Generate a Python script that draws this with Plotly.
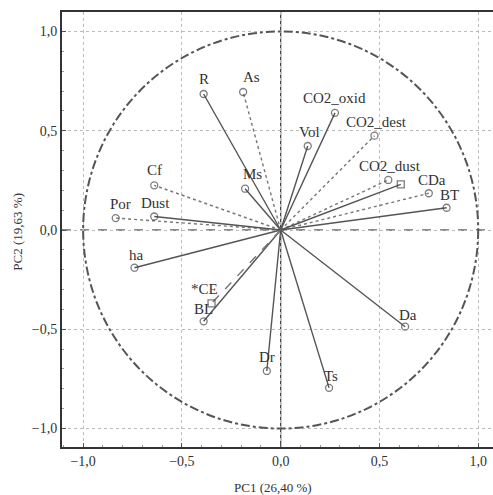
import plotly.graph_objects as go

# Loadings
names = ["R", "As", "Ms", "Cf", "Por", "Dust", "ha", "BL", "*CE", "Dr", "Ts", "Da",
         "CO2_oxid", "CO2_dest", "Vol", "CO2_dust", "*CO", "CDa", "BT"]
pc1 = [-0.39, -0.19, -0.18, -0.64, -0.835, -0.64, -0.74, -0.39, -0.35, -0.07, 0.245, 0.63,
       0.275, 0.475, 0.137, 0.545, 0.608, 0.75, 0.84]
pc2 = [0.685, 0.695, 0.208, 0.225, 0.06, 0.068, -0.19, -0.46, -0.37, -0.71, -0.795, -0.487,
       0.59, 0.475, 0.423, 0.252, 0.23, 0.185, 0.112]
styles = ["solid", "dot", "solid", "dot", "dot", "solid", "solid", "solid", "dash", "solid", "solid", "solid",
          "solid", "dot", "solid", "dot", "solid", "dot", "solid"]
symbols = ["circle-open"] * 8 + ["square-open"] + ["circle-open"] * 7 + ["square-open"] + ["circle-open"] * 2
# label pixel offsets (layout only)
label_dx = [0, 8, 7, 0, 5, 1, 2, 0, -7, 0, 2, 3, 0, 2, 2, 2, 0, 3, 3]
label_dy = [3, 3, 3, 3, 2, 2, 1, 0, 2, 2, 0, 0, 3, 2, 2, 2, 0, 1, 1]

ticks = [-1.0, -0.5, 0.0, 0.5, 1.0]
x_title = "PC1 (26,40 %)"
y_title = "PC2 (19,63 %)"

serif = "Liberation Serif"
fig = go.Figure()

annotations = []
for n, x, y, d, s, dx, dy in zip(names, pc1, pc2, styles, symbols, label_dx, label_dy):
    fig.add_trace(go.Scatter(
        x=[0, x], y=[0, y], mode="lines+markers",
        line=dict(color="#555555" if d == "solid" else "#777777", width=1.4, dash=d),
        marker=dict(symbol=["circle", s], size=[0, 7], color="#444444",
                    line=dict(color="#444444", width=1.3)),
        showlegend=False, hoverinfo="skip"))
    if n != "*CO":
        annotations.append(dict(
            text=n, x=x, y=y, xref="x", yref="y", showarrow=False,
            xanchor="center", yanchor="bottom", xshift=dx, yshift=dy + 2,
            font=dict(family=serif, size=15, color="#333333")))

annotations += [
    dict(text=x_title, xref="paper", yref="paper", x=0.49, y=0, yshift=-40,
         showarrow=False, font=dict(family=serif, size=13, color="#333333"),
         yanchor="middle"),
    dict(text=y_title, xref="paper", yref="paper", x=0, xshift=-44, y=0.495,
         showarrow=False, textangle=-90, font=dict(family=serif, size=13, color="#333333"),
         xanchor="center"),
]

fig.update_layout(
    width=493, height=495,
    margin=dict(l=62, r=0, t=12, b=48),
    paper_bgcolor="white", plot_bgcolor="white",
    separators=", ",
    showlegend=False,
    font=dict(family=serif, size=13, color="#333333"),
    shapes=[
        dict(type="circle", xref="x", yref="y", x0=-1, y0=-1, x1=1, y1=1,
             line=dict(color="#555555", width=2, dash="dashdot"), layer="above"),
        dict(type="line", xref="x", yref="y", x0=-1.107, x1=1.075, y0=0, y1=0,
             line=dict(color="#666666", width=1.5, dash="dash"), layer="below"),
        dict(type="line", xref="x", yref="y", x0=0, x1=0, y0=-1.093, y1=1.098,
             line=dict(color="#444444", width=1.3), layer="below"),
    ],
    annotations=annotations,
)
fig.update_xaxes(range=[-1.107, 1.075], tickvals=ticks, tickformat=".1f",
                 showgrid=True, gridcolor="#bbbbbb", griddash="dot", gridwidth=1,
                 zeroline=False, showline=True, linecolor="#333333", linewidth=2, mirror=True,
                 ticks="inside", ticklen=4, tickcolor="#555555",
                 minor=dict(ticks="inside", dtick=0.1, ticklen=2, tickcolor="#999999"),
                 tickfont=dict(family=serif, size=14, color="#333333"))
fig.update_yaxes(range=[-1.093, 1.098], tickvals=ticks, tickformat=".1f",
                 showgrid=True, gridcolor="#bbbbbb", griddash="dot", gridwidth=1,
                 zeroline=False, showline=True, linecolor="#333333", linewidth=2, mirror=False,
                 ticks="inside", ticklen=4, tickcolor="#555555",
                 minor=dict(ticks="inside", dtick=0.1, ticklen=2, tickcolor="#999999"),
                 tickfont=dict(family=serif, size=14, color="#333333"))

fig.write_html("out.html")
